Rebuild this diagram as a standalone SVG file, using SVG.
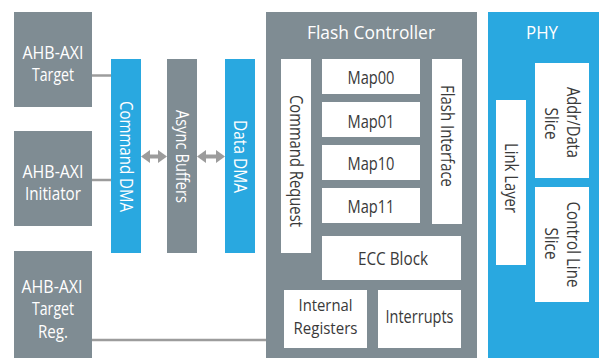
<svg xmlns="http://www.w3.org/2000/svg" width="599" height="360" viewBox="0 0 599 360">
<style>
.g{fill:#7f8c93}
.b{fill:#29a8e0}
.w{fill:#ffffff}
text{font-family:"Open Sans","Noto Sans",sans-serif;font-size:18px;text-anchor:middle}
.lt{fill:#ffffff}
.dk{fill:#3a3a3a}
.ttl{font-size:19px}
.sm{font-size:16.5px}
.ln{stroke:#9c9c9c;stroke-width:2.5;fill:none}
.ar{stroke:#9c9c9c;stroke-width:4;fill:none;marker-start:url(#ah);marker-end:url(#ah)}
</style>
<defs>
<marker id="ah" markerUnits="userSpaceOnUse" markerWidth="9" markerHeight="13" refX="0" refY="6.5" orient="auto-start-reverse" viewBox="0 0 9 13">
<path d="M0,0 L9,6.5 L0,13 z" fill="#9c9c9c"/>
</marker>
</defs>
<rect width="599" height="360" fill="#ffffff"/>

<g id="connectors">
<line class="ln" x1="92" y1="75.5" x2="111" y2="75.5"/>
<line class="ln" x1="92" y1="180" x2="111" y2="180"/>
<line class="ln" x1="92" y1="340" x2="266" y2="340"/>
<line class="ar" x1="150" y1="156.5" x2="158" y2="156.5"/>
<line class="ar" x1="206" y1="156.5" x2="216" y2="156.5"/>
</g>

<g id="ahb-axi-target">
<rect class="g" x="14" y="12" width="78" height="95"/>
<text class="lt" x="53" y="59" textLength="61" lengthAdjust="spacingAndGlyphs">AHB-AXI</text>
<text class="lt" x="53" y="81" textLength="42" lengthAdjust="spacingAndGlyphs">Target</text>
</g>
<g id="ahb-axi-initiator">
<rect class="g" x="14" y="131" width="78" height="95"/>
<text class="lt" x="53" y="178" textLength="61" lengthAdjust="spacingAndGlyphs">AHB-AXI</text>
<text class="lt" x="53" y="200" textLength="56" lengthAdjust="spacingAndGlyphs">Initiator</text>
</g>
<g id="ahb-axi-target-reg">
<rect class="g" x="14" y="251" width="78" height="107"/>
<text class="lt" x="52" y="293" textLength="61" lengthAdjust="spacingAndGlyphs">AHB-AXI</text>
<text class="lt" x="53" y="315" textLength="42" lengthAdjust="spacingAndGlyphs">Target</text>
<text class="lt" x="53" y="338" textLength="30" lengthAdjust="spacingAndGlyphs">Reg.</text>
</g>

<g id="command-dma">
<rect class="b" x="111" y="59" width="30" height="194"/>
<text class="lt" transform="translate(120,156.5) rotate(90)" textLength="111" lengthAdjust="spacingAndGlyphs">Command DMA</text>
</g>
<g id="async-buffers">
<rect class="g" x="167" y="59" width="30" height="194"/>
<text class="lt" transform="translate(176,156.5) rotate(90)" textLength="93" lengthAdjust="spacingAndGlyphs">Async Buffers</text>
</g>
<g id="data-dma">
<rect class="b" x="225" y="59" width="30" height="194"/>
<text class="lt" transform="translate(234,156.5) rotate(90)" textLength="73" lengthAdjust="spacingAndGlyphs">Data DMA</text>
</g>

<g id="flash-controller">
<rect class="g" x="266" y="12" width="211" height="346"/>
<text class="lt ttl" x="371" y="39" textLength="128" lengthAdjust="spacingAndGlyphs">Flash Controller</text>
</g>
<g id="command-request">
<rect class="w" x="281" y="59" width="30" height="194"/>
<text class="dk" transform="translate(290,161) rotate(90)" textLength="132" lengthAdjust="spacingAndGlyphs">Command Request</text>
</g>
<g id="map00">
<rect class="w" x="322" y="59" width="98" height="35"/>
<text class="dk" x="371" y="84" textLength="47" lengthAdjust="spacingAndGlyphs">Map00</text>
</g>
<g id="map01">
<rect class="w" x="322" y="102" width="98" height="35"/>
<text class="dk" x="371" y="127.5" textLength="47" lengthAdjust="spacingAndGlyphs">Map01</text>
</g>
<g id="map10">
<rect class="w" x="322" y="145" width="98" height="35"/>
<text class="dk" x="371" y="170" textLength="47" lengthAdjust="spacingAndGlyphs">Map10</text>
</g>
<g id="map11">
<rect class="w" x="322" y="188" width="98" height="35"/>
<text class="dk" x="371" y="213" textLength="47" lengthAdjust="spacingAndGlyphs">Map11</text>
</g>
<g id="flash-interface">
<rect class="w" x="432" y="59" width="30" height="165"/>
<text class="dk" transform="translate(441,136) rotate(90)" textLength="102" lengthAdjust="spacingAndGlyphs">Flash Interface</text>
</g>
<g id="ecc-block">
<rect class="w" x="322" y="236" width="139" height="44"/>
<text class="dk" x="393" y="265" textLength="70" lengthAdjust="spacingAndGlyphs">ECC Block</text>
</g>
<g id="internal-registers">
<rect class="w" x="284" y="290" width="83" height="58"/>
<text class="dk sm" x="325.5" y="311" textLength="54" lengthAdjust="spacingAndGlyphs">Internal</text>
<text class="dk sm" x="325.5" y="333.5" textLength="64" lengthAdjust="spacingAndGlyphs">Registers</text>
</g>
<g id="interrupts">
<rect class="w" x="378" y="290" width="83" height="58"/>
<text class="dk" x="419.5" y="323" textLength="68" lengthAdjust="spacingAndGlyphs">Interrupts</text>
</g>

<g id="phy">
<rect class="b" x="488" y="12" width="111" height="346"/>
<text class="lt ttl" x="542" y="39" textLength="32" lengthAdjust="spacingAndGlyphs">PHY</text>
</g>
<g id="link-layer">
<rect class="w" x="496" y="100" width="30" height="165"/>
<text class="dk" transform="translate(505,178) rotate(90)" textLength="70" lengthAdjust="spacingAndGlyphs">Link Layer</text>
</g>
<g id="addr-data-slice">
<rect class="w" x="535" y="63" width="54" height="115"/>
<text class="dk" transform="translate(567,122.5) rotate(90)" textLength="71" lengthAdjust="spacingAndGlyphs">Addr/Data</text>
<text class="dk" transform="translate(545,123.5) rotate(90)" textLength="32" lengthAdjust="spacingAndGlyphs">Slice</text>
</g>
<g id="control-line-slice">
<rect class="w" x="535" y="187" width="54" height="115"/>
<text class="dk" transform="translate(567,244.5) rotate(90)" textLength="86" lengthAdjust="spacingAndGlyphs">Control Line</text>
<text class="dk" transform="translate(545,243.5) rotate(90)" textLength="32" lengthAdjust="spacingAndGlyphs">Slice</text>
</g>
</svg>
